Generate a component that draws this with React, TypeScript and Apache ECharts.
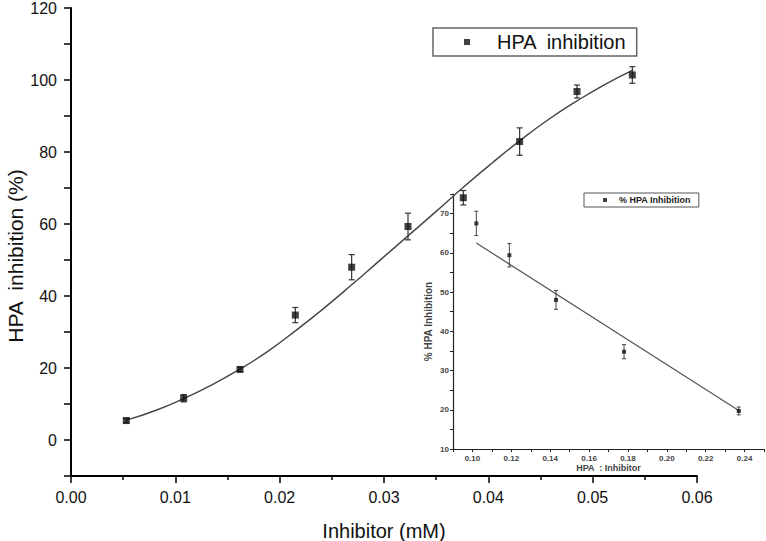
import React, { useEffect, useRef } from "react";
import * as echarts from "echarts";

const FONT = "'Liberation Sans', Arial, Helvetica, sans-serif";

// Main chart: HPA inhibition vs inhibitor concentration (mM)
const mainX = [0.0053, 0.0108, 0.0162, 0.0215, 0.0269, 0.0323, 0.0376, 0.043, 0.0485, 0.0538];
const mainY = [5.4, 11.6, 19.6, 34.7, 48.0, 59.3, 67.3, 82.9, 96.8, 101.4];
const mainErr = [0.6, 1.0, 0.6, 2.1, 3.5, 3.7, 2.0, 3.8, 1.8, 2.3];

// Fitted curve
const fitX = [0.0053, 0.0081, 0.0108, 0.0135, 0.0162, 0.0189, 0.0215, 0.0242, 0.0269, 0.0296, 0.0323, 0.035, 0.0376, 0.0403, 0.043, 0.0457, 0.0485, 0.0512, 0.0539];
const fitY = [5.5, 8.2, 11.5, 15.3, 19.7, 24.7, 30.3, 36.5, 43.1, 49.9, 56.7, 63.5, 70.2, 76.8, 83.1, 88.9, 94.2, 98.8, 102.8];

// Inset: % HPA inhibition vs HPA : inhibitor ratio
const insetX = [0.102, 0.119, 0.143, 0.178, 0.237];
const insetY = [67.5, 59.4, 48.0, 34.8, 19.7];
const insetErr = [3.1, 3.0, 2.4, 1.8, 1.0];
const insetFitX = [0.102, 0.238];
const insetFitY = [62.5, 19.5];

const mainName = "HPA  inhibition";
const insetName = "% HPA Inhibition";

function errorBarItem(cap: number, width: number) {
  return (params: any, api: any) => {
    const x = api.value(0);
    const y = api.value(1);
    const e = api.value(2);
    const top = api.coord([x, y + e]);
    const bot = api.coord([x, y - e]);
    const style = { stroke: "#333", lineWidth: width };
    return {
      type: "group",
      children: [
        { type: "line", shape: { x1: top[0], y1: top[1], x2: bot[0], y2: bot[1] }, style },
        { type: "line", shape: { x1: top[0] - cap, y1: top[1], x2: top[0] + cap, y2: top[1] }, style },
        { type: "line", shape: { x1: bot[0] - cap, y1: bot[1], x2: bot[0] + cap, y2: bot[1] }, style },
      ],
    };
  };
}

export default function App() {
  const ref = useRef<HTMLDivElement>(null);
  useEffect(() => {
    if (!ref.current) return;
    const chart = echarts.init(ref.current, undefined, { renderer: "svg" });
    const option: any = {
      animation: false,
      backgroundColor: "#fff",
      textStyle: { fontFamily: FONT },
      grid: [
        { left: 71, right: 69, top: 8, bottom: 65, containLabel: false, outerBoundsMode: "none" },
        { left: 453, right: 2, top: 194, bottom: 92, containLabel: false, outerBoundsMode: "none" },
      ],
      xAxis: [
        {
          gridIndex: 0,
          type: "value",
          min: 0,
          max: 0.06,
          interval: 0.01,
          axisLine: { onZero: false, lineStyle: { color: "#000", width: 2 } },
          axisTick: { length: 7, lineStyle: { color: "#000", width: 1.5 } },
          minorTick: { show: true, splitNumber: 2, length: 4, lineStyle: { color: "#000", width: 1.5 } },
          splitLine: { show: false },
          axisLabel: { fontSize: 16, color: "#111", margin: 13, formatter: (v: number) => v.toFixed(2) },
          name: "Inhibitor (mM)",
          nameLocation: "middle",
          nameGap: 45,
          nameTextStyle: { fontSize: 20, color: "#111" },
        },
        {
          gridIndex: 1,
          type: "value",
          min: 0.09,
          max: 0.25,
          interval: 0.01,
          axisLine: { onZero: false, lineStyle: { color: "#222", width: 1.2 } },
          axisTick: { length: 3, lineStyle: { color: "#222", width: 1 } },
          splitLine: { show: false },
          axisLabel: {
            fontSize: 8,
            fontWeight: "bold",
            color: "#444",
            margin: 5,
            formatter: (v: number) => {
              const k = Math.round(v * 100);
              return k % 2 === 0 && k >= 10 && k <= 24 ? v.toFixed(2) : "";
            },
          },
          name: "HPA  : Inhibitor",
          nameLocation: "middle",
          nameGap: 14,
          nameTextStyle: { fontSize: 9, fontWeight: "bold", color: "#444" },
        },
      ],
      yAxis: [
        {
          gridIndex: 0,
          type: "value",
          min: -10,
          max: 120,
          interval: 10,
          axisLine: { onZero: false, lineStyle: { color: "#000", width: 2 } },
          axisTick: { length: 7, lineStyle: { color: "#000", width: 1.5 } },
          splitLine: { show: false },
          axisLabel: {
            fontSize: 16,
            color: "#111",
            margin: 14,
            formatter: (v: number) => (Math.round(v) % 20 === 0 ? String(Math.round(v)) : ""),
          },
        },
        {
          gridIndex: 1,
          type: "value",
          min: 10,
          max: 75,
          interval: 5,
          axisLine: { onZero: false, lineStyle: { color: "#222", width: 1.2 } },
          axisTick: { length: 3, lineStyle: { color: "#222", width: 1 } },
          splitLine: { show: false },
          axisLabel: {
            fontSize: 8,
            fontWeight: "bold",
            color: "#444",
            margin: 4,
            formatter: (v: number) => (Math.round(v) % 10 === 0 ? String(Math.round(v)) : ""),
          },
          name: "% HPA Inhibition",
          nameLocation: "middle",
          nameGap: 20,
          nameRotate: 90,
          nameTextStyle: { fontSize: 10, fontWeight: "bold", color: "#444" },
        },
      ],
      legend: [
        {
          data: [{ name: mainName, icon: "rect" }],
          left: 433,
          top: 28,
          padding: [4, 10, 4, 31],
          itemWidth: 6,
          itemHeight: 6,
          borderColor: "#666",
          borderWidth: 1.5,
          selectedMode: false,
          textStyle: { fontSize: 20, color: "#111", padding: [0, 0, 0, 22], lineHeight: 19 },
        },
        {
          data: [{ name: insetName, icon: "rect" }],
          left: 584,
          top: 193,
          padding: [2, 8, 2, 19],
          itemWidth: 4,
          itemHeight: 4,
          borderColor: "#555",
          borderWidth: 1,
          selectedMode: false,
          textStyle: { fontSize: 9, fontWeight: "bold", color: "#222", padding: [0, 0, 0, 7], lineHeight: 10 },
        },
      ],
      graphic: [
        {
          type: "text",
          x: 15,
          y: 256,
          rotation: Math.PI / 2,
          style: {
            text: "HPA  inhibition (%)",
            fontFamily: FONT,
            fontSize: 21,
            fill: "#111",
            align: "center",
            verticalAlign: "middle",
          },
        },
      ],
      series: [
        {
          type: "line",
          name: "fit",
          xAxisIndex: 0,
          yAxisIndex: 0,
          data: fitX.map((x, i) => [x, fitY[i]]),
          smooth: true,
          showSymbol: false,
          lineStyle: { color: "#444", width: 1.4 },
          z: 2,
        },
        {
          type: "custom",
          name: "mainErr",
          xAxisIndex: 0,
          yAxisIndex: 0,
          renderItem: errorBarItem(3, 1.2),
          data: mainX.map((x, i) => [x, mainY[i], mainErr[i]]),
          z: 3,
        },
        {
          type: "scatter",
          name: mainName,
          xAxisIndex: 0,
          yAxisIndex: 0,
          symbol: "rect",
          symbolSize: 7,
          itemStyle: { color: "#111" },
          data: mainX.map((x, i) => [x, mainY[i]]),
          z: 4,
        },
        {
          type: "line",
          name: "insetFit",
          xAxisIndex: 1,
          yAxisIndex: 1,
          data: insetFitX.map((x, i) => [x, insetFitY[i]]),
          showSymbol: false,
          lineStyle: { color: "#555", width: 1.2 },
          z: 2,
        },
        {
          type: "custom",
          name: "insetErr",
          xAxisIndex: 1,
          yAxisIndex: 1,
          renderItem: errorBarItem(2, 0.9),
          data: insetX.map((x, i) => [x, insetY[i], insetErr[i]]),
          z: 3,
        },
        {
          type: "scatter",
          name: insetName,
          xAxisIndex: 1,
          yAxisIndex: 1,
          symbol: "rect",
          symbolSize: 4,
          itemStyle: { color: "#111" },
          data: insetX.map((x, i) => [x, insetY[i]]),
          z: 4,
        },
      ],
    };
    chart.setOption(option);
    return () => chart.dispose();
  }, []);
  return (
    <div
      ref={ref}
      style={{ position: "fixed", left: 0, top: 0, width: 766, height: 541 }}
    />
  );
}
